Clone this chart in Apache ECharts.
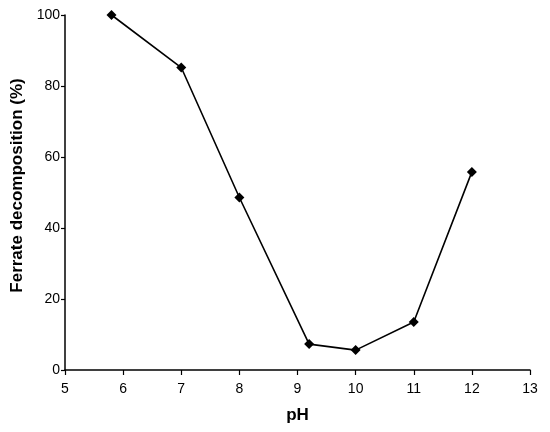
<!DOCTYPE html>
<html><head><meta charset="utf-8">
<script src="https://cdn.jsdelivr.net/npm/echarts@6/dist/echarts.min.js"></script>
<style>html,body{margin:0;padding:0;background:#fff}#c{width:550px;height:432px}</style>
</head><body><div id="c"></div>
<script>
const pH = [5.8, 7.0, 8.0, 9.2, 10.0, 11.0, 12.0];
const decomposition = [100, 85.2, 48.6, 7.3, 5.6, 13.5, 55.8];
const xTicks = [5, 6, 7, 8, 9, 10, 11, 12, 13];
const yTicks = [0, 20, 40, 60, 80, 100];

const chart = echarts.init(document.getElementById('c'), null, {renderer: 'canvas'});
const font = '"Liberation Sans", Arial, sans-serif';
chart.setOption({
  animation: false,
  backgroundColor: '#fff',
  grid: {left: 65, right: 20, top: 15, bottom: 62},
  xAxis: {
    type: 'value', min: xTicks[0], max: xTicks[xTicks.length - 1], interval: 1,
    name: 'pH', nameLocation: 'middle', nameGap: 37,
    nameTextStyle: {fontFamily: font, fontSize: 17, fontWeight: 'bold', color: '#000'},
    axisLine: {lineStyle: {color: '#000', width: 1.5}},
    axisTick: {show: true, length: 5, lineStyle: {color: '#000', width: 1.2}},
    axisLabel: {fontFamily: font, fontSize: 14, color: '#000', margin: 12},
    splitLine: {show: false}
  },
  yAxis: {
    type: 'value', min: yTicks[0], max: yTicks[yTicks.length - 1], interval: 20,
    name: 'Ferrate decomposition (%)', nameLocation: 'middle', nameGap: 38,
    nameTextStyle: {fontFamily: font, fontSize: 17, fontWeight: 'bold', color: '#000', padding: [0, 0, 0, 14]},
    axisLine: {show: true, lineStyle: {color: '#000', width: 1.5}},
    axisTick: {show: true, length: 4, lineStyle: {color: '#000', width: 1.2}},
    axisLabel: {fontFamily: font, fontSize: 14, color: '#000', margin: 5},
    splitLine: {show: false}
  },
  series: [{
    type: 'line',
    data: pH.map((x, i) => [x, decomposition[i]]),
    symbol: 'diamond', symbolSize: 10,
    itemStyle: {color: '#000'},
    lineStyle: {color: '#000', width: 1.6},
    clip: false
  }]
});
</script></body></html>
